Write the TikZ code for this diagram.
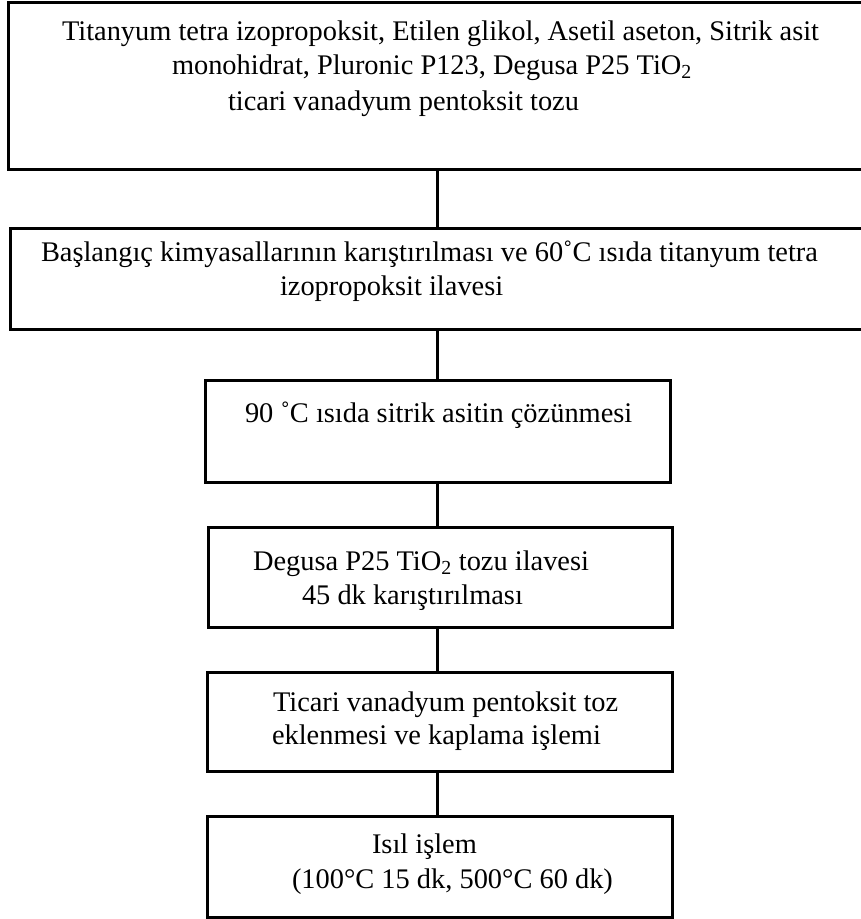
\documentclass[tikz,border=0pt]{standalone}
\usepackage{fontspec}
\setmainfont{Liberation Serif}
\begin{document}
\begin{tikzpicture}[x=1pt,y=-1pt,
  box/.style={draw=black,line width=3pt,fill=white,rectangle,inner sep=0pt,outer sep=0pt},
  txt/.style={anchor=base west,inner sep=0pt,outer sep=0pt,font=\fontsize{28.4}{34}\selectfont},
  link/.style={draw=black,line width=3pt}]
\useasboundingbox (0,0) rectangle (861,919);
\clip (0,0) rectangle (861,919);

% process boxes
\node[box,minimum width=867pt,minimum height=167pt] (b1) at (441.5,85.5) {};
\node[box,minimum width=865pt,minimum height=101pt] (b2) at (442.5,278.5) {};
\node[box,minimum width=465pt,minimum height=102pt] (b3) at (437.5,431) {};
\node[box,minimum width=464pt,minimum height=100pt] (b4) at (440,577) {};
\node[box,minimum width=465pt,minimum height=99pt] (b5) at (439.5,721.5) {};
\node[box,minimum width=465pt,minimum height=101pt] (b6) at (439.5,866.5) {};

% vertical links along the common axis
\draw[link] (b1.south -| b3.center) -- (b2.north -| b3.center);
\draw[link] (b2.south -| b3.center) -- (b3.north);
\draw[link] (b3.south) -- (b4.north -| b3.center);
\draw[link] (b4.south -| b3.center) -- (b5.north -| b3.center);
\draw[link] (b5.south -| b3.center) -- (b6.north -| b3.center);

% labels
\node[txt] (t1a) at (62,40) {Titanyum tetra izopropoksit, Etilen glikol, Asetil aseton, Sitrik asit};
\node[txt] (t1b) at (172,74) {monohidrat, Pluronic P123, Degusa P25 TiO\textsubscript{2}};
\node[txt] (t1c) at (228,110) {ticari vanadyum pentoksit tozu};

\node[txt] (t2a) at (41,261) {Başlangıç kimyasallarının karıştırılması ve 60˚C ısıda titanyum tetra};
\node[txt] (t2b) at (280,295) {izopropoksit ilavesi};

\node[txt] (t3) at (245,422) {90 ˚C ısıda sitrik asitin çözünmesi};

\node[txt] (t4a) at (253,570) {Degusa P25 TiO\textsubscript{2} tozu ilavesi};
\node[txt] (t4b) at (302,604) {45 dk karıştırılması};

\node[txt] (t5a) at (273,711) {Ticari vanadyum pentoksit toz};
\node[txt] (t5b) at (272,744) {eklenmesi ve kaplama işlemi};

\node[txt] (t6a) at (372,853) {Isıl işlem};
\node[txt] (t6b) at (292,888) {(100°C 15 dk, 500°C 60 dk)};
\end{tikzpicture}
\end{document}
